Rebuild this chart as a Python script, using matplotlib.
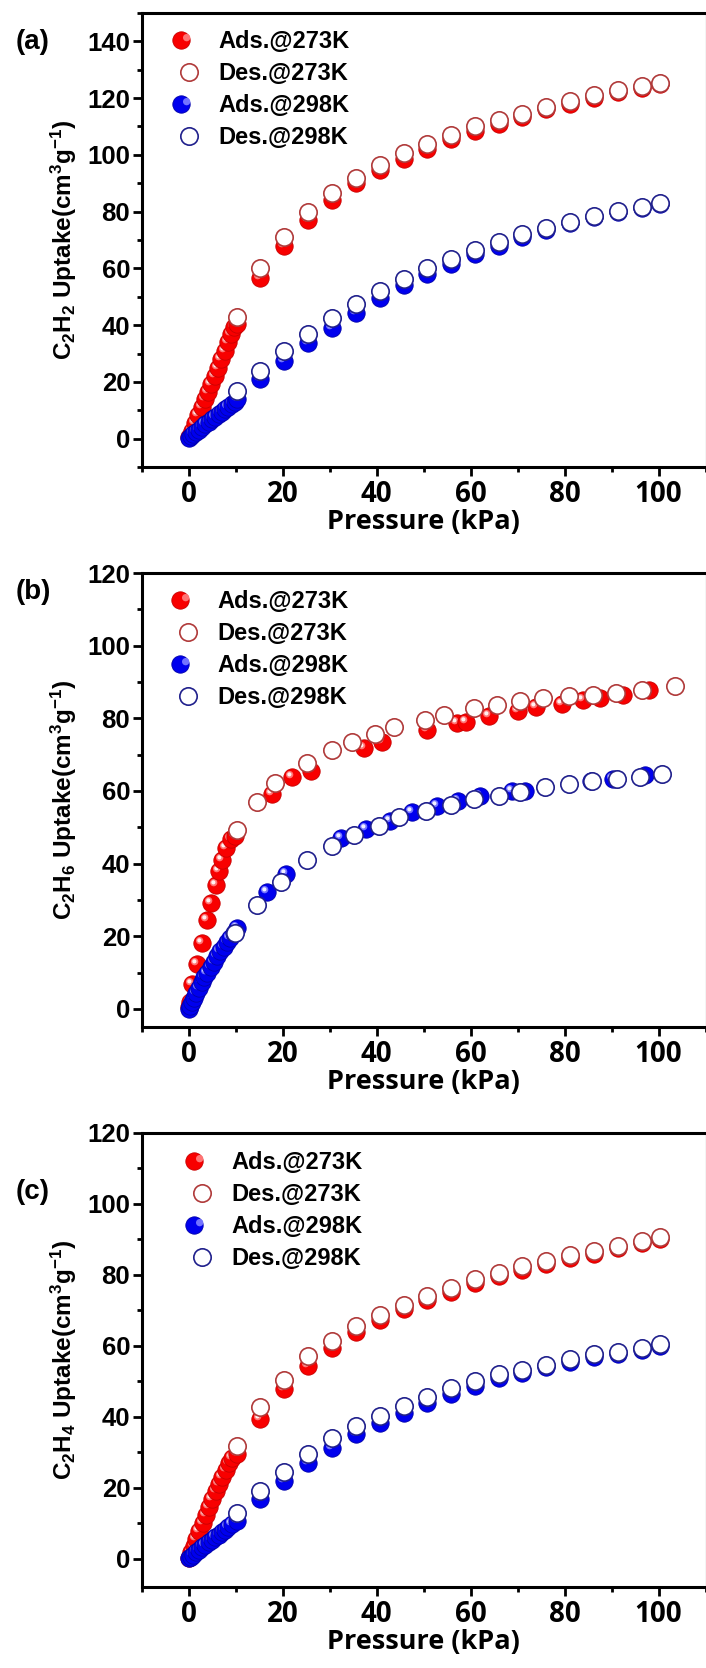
import matplotlib
matplotlib.use("Agg")
import matplotlib.pyplot as plt
from matplotlib.path import Path
from matplotlib.legend_handler import HandlerTuple
from matplotlib.ticker import MultipleLocator

plt.rcParams['font.family'] = ['Liberation Sans', 'DejaVu Sans']
plt.rcParams['font.weight'] = 'bold'
plt.rcParams['mathtext.fontset'] = 'custom'
plt.rcParams['mathtext.rm'] = 'Liberation Sans:bold'
plt.rcParams['mathtext.it'] = 'Liberation Sans:bold'
plt.rcParams['mathtext.bf'] = 'Liberation Sans:bold'

# pressure points of the 5 kPa steps (panels a and c)
HIGH_P = [10.2, 15.2, 20.3, 25.4, 30.5, 35.5, 40.6, 45.7, 50.7, 55.8,
          60.9, 66.0, 71.0, 76.1, 81.2, 86.2, 91.3, 96.4, 100.3]

# ---- (a) C2H2 ----
A_ADS273_P = [0.1, 0.6, 1.3, 2.0, 2.7, 3.4, 4.1, 4.8, 5.5, 6.2, 6.9, 7.6, 8.3, 9.0, 9.6] + HIGH_P
A_ADS273_U = [0.5, 2.8, 5.5, 8.2, 11, 13.8, 16.5, 19.2, 22, 25, 28, 31, 34, 37, 39.5,
              40.5, 56.5, 68, 77, 84, 90, 94.5, 98.5, 102, 105.5, 108.5, 111, 113.5,
              116, 118, 120, 122, 123.5, 125]
A_DES273_U = [43, 60, 71, 80, 86.5, 92, 96.5, 100.5, 104, 107, 110, 112.2, 114.5,
              117, 119, 121, 123, 124.2, 125.3]
A_ADS298_P = [0.05, 0.4, 0.9, 1.5, 2.1, 2.8, 3.5, 4.2, 4.9, 5.6, 6.3, 7.0, 7.7, 8.4, 9.1, 9.7] + HIGH_P
A_ADS298_U = [0.2, 0.8, 1.5, 2.4, 3.2, 4.1, 5, 5.9, 6.8, 7.7, 8.6, 9.5, 10.4, 11.3, 12.2, 13,
              13.8, 21, 27.4, 33.7, 39, 44.3, 49.6, 54, 58, 61.5, 65, 68, 71, 73.5, 76,
              78, 79.8, 81.3, 82.7]
A_DES298_U = [16.8, 24, 30.9, 37, 42.5, 47.5, 52, 56.2, 60, 63.3, 66.5, 69.3, 72,
              74.3, 76.5, 78.5, 80.3, 81.8, 83]

# ---- (b) C2H6 ----
B_ADS273_P = [0.0, 0.2, 0.7, 1.8, 2.8, 3.9, 4.6, 5.7, 6.4, 7.1, 7.9, 8.9, 9.9,
              17.7, 22.0, 25.9, 37.2, 41.1, 50.6, 57.0, 58.9, 63.8, 70.0, 74.0, 79.4,
              84.0, 87.6, 92.5, 98.0]
B_ADS273_U = [0.5, 2, 6.9, 12.4, 18, 24.4, 29.2, 34.2, 37.9, 41.1, 44.4, 46.7, 47.6,
              59.2, 63.8, 65.6, 71.7, 73.5, 76.8, 78.6, 79, 80.5, 82, 83, 84,
              85, 85.5, 86.4, 87.8]
B_DES273_P = [103.5, 96.5, 91.0, 86.0, 81.0, 75.5, 70.6, 65.5, 60.6, 54.3,
              50.2, 43.6, 39.7, 34.7, 30.5, 25.2, 18.4, 14.5, 10.3]
B_DES273_U = [88.8, 87.8, 87, 86.4, 86, 85.5, 84.7, 83.6, 82.8, 81,
              79.4, 77.6, 75.7, 73.5, 71.2, 67.8, 62.2, 56.9, 49.3]
B_ADS298_P = [0.0, 0.3, 0.6, 1.0, 1.5, 2.1, 2.7, 3.3, 3.9, 4.6, 5.3, 6.0, 6.7, 7.4,
              8.1, 8.8, 9.5, 10.3, 16.7, 20.6, 32.3, 37.6, 42.9, 47.5, 52.8, 57.4,
              62.0, 68.8, 71.6, 85.7, 90.4, 97.2]
B_ADS298_U = [0, 0.8, 1.8, 3, 4.3, 5.8, 7.3, 8.7, 10, 11.5, 13, 14.5, 15.8, 17,
              18.3, 19.5, 20.8, 22.2, 32.3, 37, 46.9, 49.4, 51.8, 54.1, 55.9, 57.3,
              58.7, 60.1, 60.1, 62.6, 63.3, 64.3]
B_DES298_P = [100.7, 96.1, 91.1, 85.8, 80.9, 75.9, 70.6, 66.0, 60.6, 55.7,
              50.4, 44.7, 40.4, 35.1, 30.4, 25.2, 19.5, 14.5, 9.9]
B_DES298_U = [64.7, 63.8, 63.3, 62.6, 61.9, 61, 59.8, 58.7, 57.8, 56.1,
              54.5, 52.7, 50.4, 47.8, 44.8, 41.1, 34.8, 28.6, 20.9]

# ---- (c) C2H4 ----
C_ADS273_P = [0.05, 0.5, 1.0, 1.6, 2.2, 2.9, 3.6, 4.3, 5.0, 5.7, 6.4, 7.1, 7.8, 8.5, 9.2] + HIGH_P
C_ADS273_U = [0.3, 1.8, 3.6, 5.6, 7.7, 10, 12.3, 14.6, 16.8, 19, 21, 23, 25, 27, 28.5,
              29.5, 39.5, 47.7, 54.3, 59.4, 64, 67.4, 70.3, 72.8, 75.2, 77.6, 79.6,
              81.5, 83.1, 84.7, 86, 87.5, 89, 90.2]
C_DES273_U = [31.7, 42.7, 50.5, 57.1, 61.3, 65.5, 68.8, 71.6, 74, 76.3, 78.7, 80.6,
              82.4, 84, 85.5, 86.7, 88.1, 89.5, 90.6]
C_ADS298_P = [0.05, 0.4, 0.9, 1.5, 2.1, 2.8, 3.5, 4.2, 4.9, 5.6, 6.3, 7.0, 7.7, 8.4, 9.1] + HIGH_P
C_ADS298_U = [0.1, 0.5, 1.1, 1.8, 2.5, 3.2, 3.9, 4.6, 5.3, 6, 6.7, 7.5, 8.2, 8.9, 9.7,
              10.5, 16.7, 22, 27, 31.3, 35, 38.3, 41, 44, 46.5, 48.8, 50.8, 52.4, 54,
              55.4, 56.8, 57.8, 58.7, 59.9]
C_DES298_U = [13, 19.1, 24.5, 29.4, 34.1, 37.4, 40.2, 43, 45.6, 48.2, 50, 52.1,
              53.3, 54.7, 56.2, 57.6, 58.3, 59.3, 60.4]

LABELS = ['Ads.@273K', 'Des.@273K', 'Ads.@298K', 'Des.@298K']

MS = 12.5
# off-centre circles used as the shine on the filled balls
HL1 = Path.circle(center=(-0.35, 0.35), radius=0.45)
HL2 = Path.circle(center=(-0.6, 0.6), radius=0.4)

RED = dict(base='#f80000', dark='#c80000', light='#ff7474', edge='#b03a3a')
BLUE = dict(base='#0000ee', dark='#0000aa', light='#7474ff', edge='#20208c')


def balls(ax, p, u, col, z):
    handle = None
    for i, (x, y) in enumerate(zip(p, u)):
        zz = z + i * 0.001
        b, = ax.plot([x], [y], 'o', ms=MS, mfc=col['base'], mec=col['dark'], mew=0.6, zorder=zz)
        h1, = ax.plot([x], [y], marker=HL1, ms=MS * 0.75, color=col['light'], mew=0,
                      ls='none', zorder=zz + 0.0002)
        h2, = ax.plot([x], [y], marker=HL2, ms=MS * 0.6, color='white', mew=0, alpha=0.9,
                      ls='none', zorder=zz + 0.0004)
        handle = (b, h1, h2)
    return handle


def rings(ax, p, u, col, z):
    h, = ax.plot(p, u, 'o', ms=MS, mfc='white', mec=col['edge'], mew=1.2, ls='none', zorder=z)
    return h


def panel(ax, series, ylim, ylabel_mol, leg_anchor):
    (a273p, a273u), (d273p, d273u), (a298p, a298u), (d298p, d298u) = series
    h1 = balls(ax, a273p, a273u, RED, 2)
    h2 = rings(ax, d273p, d273u, RED, 3)
    h3 = balls(ax, a298p, a298u, BLUE, 4)
    h4 = rings(ax, d298p, d298u, BLUE, 5)

    ax.set_xlim(-10, 110)
    ax.set_ylim(*ylim)
    ax.xaxis.set_major_locator(MultipleLocator(20))
    ax.xaxis.set_minor_locator(MultipleLocator(10))
    ax.yaxis.set_major_locator(MultipleLocator(20))
    ax.yaxis.set_minor_locator(MultipleLocator(10))
    ax.set_xticks([0, 20, 40, 60, 80, 100])

    for s in ['left', 'top', 'bottom']:
        ax.spines[s].set_linewidth(2.2)
    ax.spines['right'].set_linewidth(0.8)
    ax.spines['right'].set_color('#444444')
    ax.tick_params(which='both', direction='out', width=2, top=False, right=False)
    ax.tick_params(which='major', length=6.5)
    ax.tick_params(which='minor', length=3.5)
    ax.tick_params(axis='y', labelsize=18.5, pad=2)
    ax.tick_params(axis='x', labelsize=20, labelfontfamily='Open Sans', pad=3)

    ax.set_xlabel('Pressure (kPa)', fontsize=19.5, fontfamily='Open Sans',
                  fontweight='bold', labelpad=0)
    ax.set_ylabel(ylabel_mol + r' Uptake(cm$^{3}$g$^{-1}$)', fontsize=17.5,
                  fontweight='bold', va='center')
    ax.yaxis.set_label_coords(-0.138, 0.5)

    ax.legend([h1, h2, h3, h4], LABELS, handler_map={tuple: HandlerTuple(ndivide=None)},
              loc='upper left', bbox_to_anchor=leg_anchor, frameon=False, numpoints=1,
              prop=dict(family='Liberation Sans', weight='bold', size=17),
              handlelength=1.0, handletextpad=0.75, labelspacing=0.38,
              borderpad=0, borderaxespad=0)


fig = plt.figure(figsize=(7.06, 16.68), dpi=100)
H = 1668.0
W = 706.0
left = 142 / W
width = (705.5 - 142) / W
ax_h = 454 / H
ax_a = fig.add_axes([left, (H - 467) / H, width, ax_h])
ax_b = fig.add_axes([left, (H - 1027) / H, width, ax_h])
ax_c = fig.add_axes([left, (H - 1587) / H, width, ax_h])

panel(ax_a, [(A_ADS273_P, A_ADS273_U), (HIGH_P, A_DES273_U),
             (A_ADS298_P, A_ADS298_U), (HIGH_P, A_DES298_U)],
      (-10, 150), r'C$_{2}$H$_{2}$', (0.062, 0.962))
panel(ax_b, [(B_ADS273_P, B_ADS273_U), (B_DES273_P, B_DES273_U),
             (B_ADS298_P, B_ADS298_U), (B_DES298_P, B_DES298_U)],
      (-5, 120), r'C$_{2}$H$_{6}$', (0.060, 0.962))
panel(ax_c, [(C_ADS273_P, C_ADS273_U), (HIGH_P, C_DES273_U),
             (C_ADS298_P, C_ADS298_U), (HIGH_P, C_DES298_U)],
      (-8, 120), r'C$_{2}$H$_{4}$', (0.085, 0.96))

for lab, ypix in [('(a)', 42), ('(b)', 592), ('(c)', 1192)]:
    fig.text(33 / W, 1 - ypix / H, lab, fontsize=20, fontweight='bold',
             ha='center', va='center')

fig.savefig('out.png', dpi=100)
